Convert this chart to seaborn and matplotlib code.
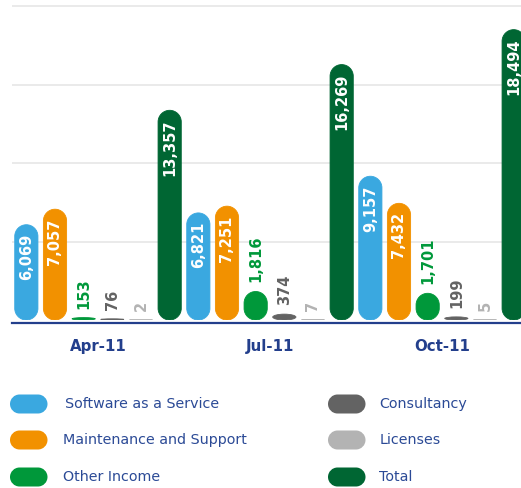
import numpy as np
import pandas as pd
import matplotlib
matplotlib.use("Agg")
import matplotlib.pyplot as plt
import seaborn as sns
from matplotlib.path import Path
from matplotlib.patches import PathPatch

# ---------------- data ----------------
quarters = ["Apr-11", "Jul-11", "Oct-11"]
series = ["Software as a Service", "Maintenance and Support", "Other Income",
          "Consultancy", "Licenses", "Total"]
saas = [6069, 6821, 9157]
maintenance = [7057, 7251, 7432]
other_income = [153, 1816, 1701]
consultancy = [76, 374, 199]
licenses = [2, 7, 5]
total = [13357, 16269, 18494]
colors = ["#3aa8e0", "#f29100", "#00983a", "#636363", "#b3b3b3", "#006633"]
grid_ticks = [5000, 10000, 15000, 20000]

values = [saas, maintenance, other_income, consultancy, licenses, total]
rows = []
for s, vals in zip(series, values):
    for q, v in zip(quarters, vals):
        rows.append({"quarter": q, "series": s, "value": v})
df = pd.DataFrame(rows)
palette = dict(zip(series, colors))

# ---------------- figure ----------------
W, H = 521, 488
sns.set_theme(style="white")
plt.rcParams["font.family"] = ["DejaVu Sans"]

NAVY = "#233f8c"
TXT = "#2b4a96"

fig = plt.figure(figsize=(W / 100, H / 100), dpi=100)
base_px = 320            # y pixel (from top) of value 0
slot_px = 172            # px per category
ax = fig.add_axes([12 / W, (H - base_px) / H, (W - 12) / W, base_px / H])

sns.barplot(data=df, x="quarter", y="value", hue="series", order=quarters,
            hue_order=series, palette=palette, width=1.0, gap=0.19,
            legend=False, ax=ax, errorbar=None)

ymax = 20000 * base_px / 314.0
ax.set_ylim(0, ymax)
ax.set_xlim(-0.5, -0.5 + (W - 12) / slot_px)

sx = slot_px                 # px per x unit
sy = base_px / ymax          # px per y unit


def rounded_path(x0, y0, x1, y1, rx, ry):
    k = 0.5523
    verts = [
        (x0 + rx, y0),
        (x1 - rx, y0),
        (x1 - rx + k * rx, y0), (x1, y0 + ry - k * ry), (x1, y0 + ry),
        (x1, y1 - ry),
        (x1, y1 - ry + k * ry), (x1 - rx + k * rx, y1), (x1 - rx, y1),
        (x0 + rx, y1),
        (x0 + rx - k * rx, y1), (x0, y1 - ry + k * ry), (x0, y1 - ry),
        (x0, y0 + ry),
        (x0, y0 + ry - k * ry), (x0 + rx - k * rx, y0), (x0 + rx, y0),
        (x0 + rx, y0),
    ]
    codes = ([Path.MOVETO, Path.LINETO] + [Path.CURVE4] * 3 + [Path.LINETO]
             + [Path.CURVE4] * 3 + [Path.LINETO] + [Path.CURVE4] * 3
             + [Path.LINETO] + [Path.CURVE4] * 3 + [Path.CLOSEPOLY])
    return Path(verts, codes)


for cont, col in zip(ax.containers, colors):
    for bar in cont:
        x0 = bar.get_x()
        w = bar.get_width()
        h = bar.get_height()
        bar.remove()
        w_px = w * sx
        h_px = h * sy
        rx = w / 2
        ry = min(h_px / 2, w_px / 2) / sy
        pp = PathPatch(rounded_path(x0, 0, x0 + w, h, rx, ry), facecolor=col,
                       edgecolor=col, lw=0.6, zorder=3)
        ax.add_patch(pp)
        xc = x0 + w / 2
        label = f"{h:,.0f}"
        if h_px > 60:
            ax.annotate(label, (xc, h), xytext=(0, -9 * 0.72),
                        textcoords="offset points", rotation=90, ha="center",
                        va="top", color="white", fontsize=10.5,
                        fontweight="bold", zorder=4)
        else:
            ax.annotate(label, (xc, h), xytext=(0, 9 * 0.72),
                        textcoords="offset points", rotation=90, ha="center",
                        va="bottom", color=col, fontsize=10.5,
                        fontweight="bold", zorder=4)

# axes styling
for s in ["top", "left", "right"]:
    ax.spines[s].set_visible(False)
ax.spines["bottom"].set_position(("outward", 2.2))
ax.spines["bottom"].set_color(NAVY)
ax.spines["bottom"].set_linewidth(1.6)

ax.set_yticks(grid_ticks)
ax.yaxis.grid(True, color="#e6e6e6", lw=1.2, zorder=0)
ax.set_axisbelow(True)
ax.tick_params(axis="y", length=0, labelleft=False)
ax.set_ylabel("")
ax.set_xlabel("")

ax.set_xticks(range(len(quarters)))
ax.set_xticklabels(quarters, fontsize=10.8, fontweight="bold", color=NAVY)
ax.tick_params(axis="x", which="major", length=0, pad=11.5)
ax.set_xticks([0.5, 1.5], minor=True)
ax.tick_params(axis="x", which="minor", length=6.5, width=1.5, color=NAVY,
               direction="out")

# ---------------- legend ----------------
def fig_pill(x0, yc, w, h, color):
    X0, X1 = x0 / W, (x0 + w) / W
    Y0, Y1 = (H - (yc + h / 2)) / H, (H - (yc - h / 2)) / H
    rx, ry = (h / 2) / W, (h / 2) / H
    fig.add_artist(PathPatch(rounded_path(X0, Y0, X1, Y1, rx, ry),
                             facecolor=color, edgecolor="none",
                             transform=fig.transFigure))


leg_rows = [404, 440, 477]
leg_cols = [(10, [65, 62.7, 62.7]), (328, [379.3, 379.3, 379.3])]
for i, (name, col) in enumerate(zip(series, colors)):
    c, r = divmod(i, 3)
    mx, tx = leg_cols[c]
    fig_pill(mx, leg_rows[r], 37.5, 19, col)
    fig.text(tx[r] / W, (H - leg_rows[r]) / H, name, fontsize=10.3,
             color=TXT, va="center", ha="left")

fig.savefig("out.png", dpi=100)
